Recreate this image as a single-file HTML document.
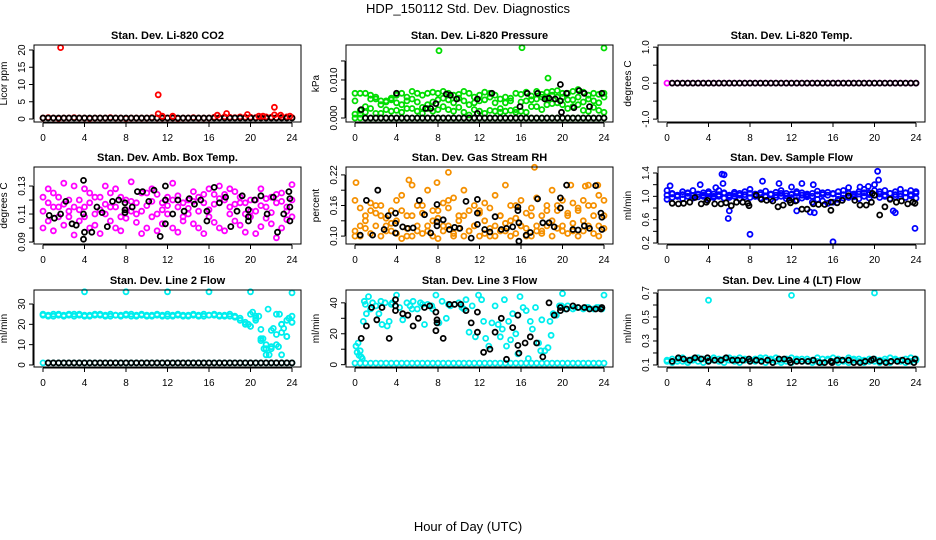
<!DOCTYPE html>
<html><head><meta charset="utf-8"><style>
html,body{margin:0;padding:0;background:#fff;}
svg{display:block;font-family:"Liberation Sans",sans-serif;}
</style></head><body>
<svg id="chart" width="936" height="540" viewBox="0 0 936 540">
<text x="468" y="13" text-anchor="middle" font-size="13">HDP_150112  Std. Dev. Diagnostics</text>
<text x="468" y="531" text-anchor="middle" font-size="13">Hour of Day (UTC)</text>
</svg>
<script>
const H=[0,0.5,1,1.5,2,2.5,3,3.5,4,4.5,5,5.5,6,6.5,7,7.5,8,8.5,9,9.5,10,10.5,11,11.5,12,12.5,13,13.5,14,14.5,15,15.5,16,16.5,17,17.5,18,18.5,19,19.5,20,20.5,21,21.5,22,22.5,23,23.5,24];
const zeroVals=[0,0,0,0,0,0,0,0,0,0,0,0,0,0,0,0,0,0,0,0,0,0,0,0,0,0,0,0,0,0,0,0,0,0,0,0,0,0,0,0,0,0,0,0,0,0,0,0,0];
const oneVals=[1,1,1,1,1,1,1,1,1,1,1,1,1,1,1,1,1,1,1,1,1,1,1,1,1,1,1,1,1,1,1,1,1,1,1,1,1,1,1,1,1,1,1,1,1,1,1,1,1];
const xTicks=[0,4,8,12,16,20,24];
// P1 CO2
const co2Red=[0.3,0.4,0.3,0.2,0.3,0.3,0.4,0.3,0.3,0.2,0.3,0.3,0.3,0.4,0.3,0.3,0.2,0.3,0.3,0.3,0.3,0.4,0.3,0.3,0.3,0.3,0.2,0.3,0.3,0.4,0.3,0.3,0.3,0.5,0.4,0.6,0.5,0.4,0.6,0.5,0.5,0.4,0.5,0.6,0.5,0.4,0.5,0.6,0.4];
const co2Black=[0.3,0.3,0.3,0.3,0.3,0.3,0.3,0.3,0.3,0.3,0.3,0.3,0.3,0.3,0.3,0.3,0.3,0.3,0.3,0.3,0.3,0.3,0.3,0.3,0.3,0.3,0.3,0.3,0.3,0.3,0.3,0.3,0.3,0.3,0.3,0.3,0.3,0.3,0.3,0.3,0.3,0.3,0.3,0.3,0.3,0.3,0.3,0.3,0.3];
const co2OutH=[1.7,11.1,11.1,11.5,12.5,16.8,17.7,19.7,20.8,21.2,22.3,22.3,22.9,23.8];
const co2OutV=[20.7,7,1.5,0.8,0.8,1.1,1.6,1.3,0.8,0.8,3.4,1.2,1.1,0.8];
// P2 pressure
const prG1=[0.0065,0.0065,0.0065,0.006,0.005,0.0045,0.0042,0.0048,0.006,0.0065,0.0055,0.007,0.0065,0.006,0.0065,0.0068,0.0065,0.007,0.0065,0.006,0.0062,0.007,0.0065,0.0055,0.006,0.0068,0.0065,0.006,0.005,0.0055,0.0052,0.0065,0.0062,0.0068,0.0058,0.007,0.0062,0.0068,0.007,0.0072,0.0065,0.0065,0.007,0.0075,0.0068,0.006,0.0065,0.0062,0.0065];
const prG2=[0.001,0.002,0.003,0.0025,0.0012,0.0035,0.0045,0.0018,0.002,0.0035,0.0045,0.0025,0.0018,0.0028,0.0035,0.0042,0.0048,0.003,0.0022,0.004,0.0028,0.0015,0.0035,0.0022,0.0045,0.0012,0.002,0.0018,0.0015,0.004,0.002,0.0015,0.0018,0.0045,0.003,0.005,0.0022,0.0052,0.0038,0.004,0.0055,0.0025,0.0048,0.0035,0.0042,0.0018,0.0028,0.004,0.0015];
const prG3=[0.0045,0.001,0.0015,0.005,0.0055,0.0012,0.0022,0.0052,0.004,0.0015,0.0025,0.005,0.0042,0.0012,0.0025,0.0018,0.0022,0.0052,0.0048,0.0018,0.0052,0.0045,0.0008,0.004,0.0018,0.0048,0.0055,0.004,0.0025,0.0018,0.0045,0.0022,0.0042,0.0015,0.0048,0.003,0.0055,0.0035,0.006,0.0055,0.0035,0.0048,0.003,0.0055,0.002,0.005,0.0045,0.002,0.0055];
const prGOutH=[8.1,16.1,24,18.6];
const prGOutV=[0.0177,0.0185,0.0184,0.0105];
const prBH=[0.6,4,6.8,7.3,7.8,8.8,9.2,9.8,11.8,11.8,13.2,15.9,16.6,17.6,18.3,18.7,19.3,19.8,19.8,19.9,20.4,21.1,21.6,22.1,22.6,23.8];
const prBV=[0.0022,0.0065,0.0025,0.0025,0.0038,0.0063,0.006,0.005,0.005,0.0012,0.0065,0.003,0.0065,0.0065,0.005,0.0052,0.005,0.0088,0.0045,0.0015,0.0065,0.0027,0.0072,0.0065,0.003,0.0065];
// P4 amb box temp
const amM1=[.112,.118,.125,.108,.132,.12,.115,.105,.128,.118,.11,.122,.13,.125,.115,.108,.12,.133,.118,.112,.125,.128,.11,.118,.122,.132,.115,.108,.12,.126,.112,.118,.128,.124,.13,.12,.115,.126,.118,.11,.112,.12,.128,.115,.122,.118,.125,.112,.131];
const amM2=[.1,.105,.098,.115,.102,.112,.095,.12,.108,.1,.102,.096,.11,.105,.1,.098,.107,.112,.104,.096,.1,.108,.098,.103,.11,.1,.097,.105,.11,.103,.1,.096,.108,.104,.1,.098,.11,.105,.102,.097,.108,.096,.101,.107,.103,.093,.1,.106,.108];
const amM3=[.122,.128,.115,.122,.117,.108,.13,.113,.115,.125,.122,.113,.117,.115,.128,.122,.113,.119,.11,.125,.116,.119,.124,.113,.116,.12,.123,.118,.114,.119,.122,.124,.113,.117,.121,.124,.128,.117,.122,.118,.12,.112,.116,.121,.111,.124,.119,.115,.12];
const amBH=[0.6,1.1,1.7,2.2,2.8,3.2,3.9,3.9,4,3.9,4.7,5.2,5.7,6.2,6.7,7.3,7.9,7.9,7.9,8.6,9.1,9.6,10.2,10.7,11.3,11.8,11.8,11.8,12.5,13,13.6,14.1,14.6,15.2,15.8,15.8,16.5,17,17.6,18.1,18.7,19.2,19.8,19.8,19.8,20.4,21,21.6,22.2,22.6,23.2,23.7,23.8,23.8,23.8];
const amBV=[.109,.107,.110,.119,.103,.102,.134,.110,.097,.092,.097,.115,.111,.101,.119,.120,.118,.113,.111,.115,.126,.126,.119,.127,.094,.130,.120,.103,.110,.120,.112,.121,.117,.120,.112,.105,.129,.118,.122,.101,.112,.123,.113,.108,.105,.120,.123,.110,.122,.097,.110,.126,.121,.115,.105];
// P5 RH
const rhO1=[.1,.12,.13,.15,.16,.14,.12,.11,.13,.15,.1,.14,.12,.16,.11,.13,.15,.12,.17,.1,.13,.14,.11,.12,.15,.13,.1,.12,.14,.11,.13,.16,.12,.1,.14,.12,.11,.15,.13,.16,.12,.14,.11,.15,.13,.16,.14,.12,.17];
const rhO2=[.11,.1,.115,.105,.12,.1,.11,.125,.105,.095,.115,.1,.11,.105,.12,.1,.095,.11,.12,.105,.115,.1,.11,.12,.1,.105,.115,.1,.11,.125,.1,.105,.12,.115,.1,.11,.105,.12,.1,.115,.11,.105,.125,.1,.11,.12,.105,.1,.115];
const rhO3=[.17,.155,.14,.165,.145,.16,.135,.15,.17,.18,.14,.2,.16,.145,.19,.15,.135,.165,.155,.175,.14,.19,.15,.16,.145,.165,.155,.18,.14,.2,.16,.135,.17,.145,.155,.175,.14,.16,.19,.15,.17,.145,.165,.155,.17,.2,.16,.18,.14];
const rhOutH=[0.1,5.2,7.9,9,17.3,20.8,22.2,23.4];
const rhOutV=[.205,.21,.205,.225,.235,.2,.198,.2];
const rhBH=[0.5,1.1,1.7,2.2,2.8,3.2,3.9,3.9,3.9,4.6,5.1,5.6,6.2,6.7,7.3,7.9,7.9,7.9,8.5,9.1,9.6,10.1,10.7,11.2,11.8,11.8,11.8,12.5,13,13.5,14.1,14.6,15.2,15.7,15.7,15.8,15.8,16.5,16.9,17.6,18.1,18.7,19.2,19.8,19.8,20.4,21,21.5,22.1,22.6,23.2,23.7,23.8,23.8];
const rhBV=[.102,.17,.102,.19,.113,.14,.145,.125,.106,.118,.115,.116,.17,.142,.106,.162,.128,.12,.132,.113,.117,.115,.168,.096,.172,.145,.123,.113,.108,.138,.113,.115,.118,.157,.15,.126,.09,.102,.107,.173,.126,.126,.118,.175,.155,.2,.113,.112,.12,.115,.199,.145,.137,.113];
// P6 sample flow
const sfB1=[1.1,1.05,1.02,1.08,1.05,1.1,1.03,1.06,1.08,1.04,1.1,1.05,1.02,1.07,1.05,1.08,1.12,1.04,1.06,1.09,1.03,1.07,1.1,1.05,1.04,1.08,1.06,1.02,1.05,1.09,1.03,1.07,1.05,1.08,1.1,1.06,1.04,1.08,1.12,1.06,1.2,1.08,1.1,1.05,1.08,1.12,1.06,1.1,1.08];
const sfB2=[.95,.98,1.0,.96,1.0,.97,.99,1.0,.96,.98,1.0,.97,.98,1.0,.96,.99,.98,1.0,.97,.99,.95,.98,1.0,.96,.98,.93,.97,.99,.9,.95,.92,.88,.9,.95,.97,.98,.99,.96,1.0,.97,1.02,.98,1.0,.96,.99,1.0,.98,1.01,.97];
const sfB3=[1.02,1.04,1.0,1.03,1.06,1.01,1.04,1.02,1.05,1.0,1.03,1.06,1.01,1.04,1.02,1.03,1.05,1.0,1.03,1.01,1.04,1.02,1.05,1.01,1.03,1.05,1.02,1.04,1.0,1.03,1.06,1.02,1.04,1.01,1.03,1.05,1.02,1.04,1.06,1.03,1.1,1.04,1.02,1.05,1.03,1.04,1.06,1.03,1.05];
const sfOutH=[0.3,3.2,5.3,5.5,5.4,5.9,6,8,9.2,10.8,12.5,13,14.1,13.8,14.2,16,20.3,20.4,21.8,22,23.9,4.7,12,17.5,18.6,19.4];
const sfOutV=[1.18,1.2,1.38,1.37,1.22,0.62,0.75,0.35,1.26,1.22,0.75,1.22,1.2,0.73,0.72,0.22,1.43,1.28,0.75,0.72,0.45,1.15,1.16,1.15,1.16,1.17];
const sfBH=[0.5,1.1,1.6,2.2,2.7,3.3,3.8,3.9,4.6,5.2,5.7,6.2,6.7,7.3,7.8,7.9,8.6,9.1,9.6,10.2,10.7,11.2,11.8,11.9,12.4,13,13.5,14.1,14.6,15.2,15.8,15.8,16.4,16.9,17.5,18.1,18.6,19.2,19.7,19.8,20,20.5,21,21.5,22.1,22.6,23.2,23.7,23.9];
const sfBV=[.88,.87,.88,.9,.98,.87,.9,.93,.87,.87,.89,.84,.9,.9,.88,.84,1.02,.95,.93,.92,.82,.85,.93,.89,.92,.78,.78,.87,.86,.86,.9,.76,.89,.93,1.01,.93,.85,.85,.9,1.05,1.02,.68,.82,.95,.9,.92,.87,.9,.88];
// P7 line 2
const l2C1=[24.5,24,25,24.5,24,24.5,25,24.5,24,24.5,24.5,25,24.5,24,24.5,24.5,25,24,24.5,24.5,24,24.5,25,24.5,24,24.5,24.5,24,24.5,25,24.5,24,24.5,24.5,24,24.5,24,23.5,22,21,25,23,12,8,17,10,20,22,21];
const l2C2=[25,24.5,24,25,24.5,25,24,25,24.5,24,25,24.5,24,25,24.5,24,24.5,25,24,25,24.5,24,24.5,24,25,24,25,24.5,24,24.5,24,25,24.5,25,24.5,24,25,24,23,20,19,24,13,5,9,25,16,14,24];
const l2SH=[20.2,20.5,21,21.2,21.5,21.8,22,22.2,22.5,22.8,23,23.2,23.5,23.7,24,21.7,22.7,23,20.8,19.8,20,21.3];
const l2SV=[26,22,17.5,13,10,5,8,18,15,25,20,18,14,23,21,27.5,9,5,24,20,19,8];
const l2OutH=[4,8,12,16,20,24];
const l2OutV=[36,36,36,36,36,35.5];
// P8 line 3
const l3CH=[0.1,0.2,0.3,0.4,0.5,0.6,0.7,0.8,0.9,1.1,1.3,1.5,1.7,2,2.3,2.6,2.9,3.1,3.3,3.6,4,4.3,4.6,5,5.3,5.6,6,6.3,6.7,7,7.4,7.8,8.1,8.4,8.8,9.2,9.6,10,10.3,10.7,11,11.3,11.6,11.9,12.2,12.4,12.6,12.9,13.2,13.5,13.8,14,14.2,14.4,14.6,14.8,15,15.2,15.5,15.7,15.9,16.2,16.5,16.7,16.9,17.1,17.4,17.7,18,18.3,18.6,18.8,19.1,19.4,19.7,20,20.5,21,21.5,22,22.5,23,23.5,24,1,2.5,3.5,5.5,6.5,7.5,9,10.5,20.3,21.2,22.3,23.3,23.8,19.9,18.9,17.9];
const l3CV=[12,8,14,6,9,5,4,28,41,33,44,36,40,38,33,26,40,25,28,40,45,37,29,40,38,41,36,40,26,39,38,45,27,41,30,38,39,40,37,42,21,38,18,45,42,28,17,12,27,38,26,18,23,42,12,28,16,33,20,7,44,37,35,4,28,23,37,14,29,9,11,28,33,32,38,46,38,36,37,36,37,36,37,45,39,41,39,36,39,36,39,36,36,37,37,37,36,38,19,9];
const l3BH=[0.6,1.1,1.6,2.1,2.6,3.3,3.9,3.9,3.9,4.6,5.1,5.6,6.1,6.7,7.2,7.8,7.9,7.9,7.8,8.5,9.1,9.6,10.2,10.7,11.2,11.8,11.8,12.4,13,13.5,14.1,14.6,15.2,15.7,15.7,15.8,16.4,16.9,17.5,18.1,18.7,19.2,19.8,19.8,20.4,21,21.5,22.1,22.6,23.2,23.7,23.8];
const l3BV=[17,25,37,29,37,17,42,38,35,33,32,25,30,37,38,34,29,27,22,17,39,39,39,35,27,34,21,8,10,21,30,3.5,24,32,12.5,7.5,14,18,14,5,40,32,37,35,36,38,37,37,36,36,36,37];
// P9 line 4
const l4C1=[.14,.15,.13,.16,.14,.15,.13,.15,.14,.16,.13,.15,.14,.15,.16,.14,.13,.15,.14,.16,.15,.13,.14,.15,.16,.14,.15,.13,.14,.16,.15,.14,.13,.15,.14,.16,.15,.13,.14,.15,.13,.14,.15,.16,.14,.13,.15,.16,.14];
const l4C2=[.13,.12,.15,.13,.12,.14,.16,.12,.13,.14,.15,.12,.16,.13,.12,.15,.14,.13,.16,.12,.14,.16,.12,.13,.12,.15,.13,.15,.12,.13,.12,.15,.16,.12,.13,.12,.14,.15,.12,.13,.15,.12,.13,.12,.15,.14,.12,.13,.15];
const l4OutH=[4,12,20];
const l4OutV=[0.64,0.68,0.70];
const l4BH=[0.5,1.1,1.6,2.2,2.7,3.3,3.9,4,4.6,5.2,5.7,6.3,6.8,7.3,7.9,8,8.6,9.1,9.7,10.2,10.8,11.3,11.8,11.9,12.5,13,13.6,14.1,14.7,15.2,15.8,15.9,16.4,16.9,17.5,18,18.6,19.1,19.7,19.9,20.5,21.1,21.6,22.2,22.7,23.2,23.8,23.9];
const l4BV=[.13,.16,.15,.14,.16,.15,.16,.13,.14,.14,.16,.14,.14,.14,.15,.13,.14,.13,.14,.12,.15,.15,.14,.12,.13,.13,.13,.14,.12,.12,.13,.12,.14,.14,.14,.12,.12,.13,.14,.15,.13,.12,.13,.13,.14,.13,.12,.15];

const NS="http://www.w3.org/2000/svg";
const svg=document.getElementById('chart');
function mk(tag,attrs,parent){const e=document.createElementNS(NS,tag);for(const k in attrs)e.setAttribute(k,attrs[k]);(parent||svg).appendChild(e);return e;}
const colL=[34,346,658], rowT=[45,167,290], PW=267, PH=77;
const panels=[
 {title:"Stan. Dev. Li-820 CO2",ylab:"Licor ppm",ylim:[-0.87,21.45],yt:[0,5,10,15,20],yl:["0","5","10","15","20"],
  series:[[H,co2Red,"#ff0000"],[H,co2Black,"#000"],[co2OutH,co2OutV,"#ff0000"]]},
 {title:"Stan. Dev. Li-820 Pressure",ylab:"kPa",ylim:[-0.00105,0.0192],yt:[0,0.005,0.01,0.015],yl:["0.000","","0.010",""],
  series:[[H,zeroVals,"#00dd00"],[H,prG1,"#00dd00"],[H,prG2,"#00dd00"],[H,prG3,"#00dd00"],[prGOutH,prGOutV,"#00dd00"],[H.slice(2),zeroVals.slice(2),"#000"],[prBH,prBV,"#000"]]},
 {title:"Stan. Dev. Li-820 Temp.",ylab:"degrees C",ylim:[-1.08,1.06],yt:[-1,-0.5,0,0.5,1],yl:["-1.0","","0.0","","1.0"],
  series:[[H,zeroVals,"#ff00ff"],[H.slice(1),zeroVals.slice(1),"#000"]]},
 {title:"Stan. Dev. Amb. Box Temp.",ylab:"degrees C",ylim:[0.0886,0.1436],yt:[.09,.10,.11,.12,.13],yl:["0.09","","0.11","","0.13"],
  series:[[H,amM1,"#ff00ff"],[H,amM2,"#ff00ff"],[H,amM3,"#ff00ff"],[amBH,amBV,"#000"]]},
 {title:"Stan. Dev. Gas Stream RH",ylab:"percent",ylim:[0.0845,0.2355],yt:[.10,.13,.16,.19,.22],yl:["0.10","","0.16","","0.22"],
  series:[[H,rhO1,"#f59000"],[H,rhO2,"#f59000"],[H,rhO3,"#f59000"],[rhOutH,rhOutV,"#f59000"],[rhBH,rhBV,"#000"]]},
 {title:"Stan. Dev. Sample Flow",ylab:"ml/min",ylim:[0.183,1.503],yt:[0.2,0.4,0.6,0.8,1.0,1.2,1.4],yl:["0.2","","0.6","","1.0","","1.4"],
  series:[[H,sfB1,"#0000ff"],[H,sfB2,"#0000ff"],[H,sfB3,"#0000ff"],[sfOutH,sfOutV,"#0000ff"],[sfBH,sfBV,"#000"]]},
 {title:"Stan. Dev. Line 2 Flow",ylab:"ml/min",ylim:[-1.0,36.9],yt:[0,10,20,30],yl:["0","10","20","30"],
  series:[[H,oneVals,"#00eeee"],[H,l2C1,"#00eeee"],[H,l2C2,"#00eeee"],[l2SH,l2SV,"#00eeee"],[l2OutH,l2OutV,"#00eeee"],[H.slice(1),oneVals.slice(1),"#000"]]},
 {title:"Stan. Dev. Line 3 Flow",ylab:"ml/min",ylim:[-1.5,48.3],yt:[0,10,20,30,40],yl:["0","","20","","40"],
  series:[[H,oneVals,"#00eeee"],[l3CH,l3CV,"#00eeee"],[l3BH,l3BV,"#000"]]},
 {title:"Stan. Dev. Line 4 (LT) Flow",ylab:"ml/min",ylim:[0.083,0.725],yt:[.1,.2,.3,.4,.5,.6,.7],yl:["0.1","","0.3","","0.5","","0.7"],
  series:[[H,l4C1,"#00eeee"],[H,l4C2,"#00eeee"],[l4OutH,l4OutV,"#00eeee"],[l4BH,l4BV,"#000"]]}
];
panels.forEach((p,i)=>{
  const L=colL[i%3], T=rowT[Math.floor(i/3)], B=T+PH, R=L+PW;
  const xs=h=>L+9+h*(PW-18)/24;
  const ys=v=>B-(v-p.ylim[0])/(p.ylim[1]-p.ylim[0])*PH;
  const g=mk('g',{});
  
  
  const t=mk('text',{x:L+PW/2,y:T-6,'text-anchor':'middle','font-size':'11','font-weight':'bold'},g);t.textContent=p.title;
  
  
  const cg=mk('g',{fill:'none','stroke-width':'1.8'},g);
  
  
  p.series.forEach(s=>{
    s[0].forEach((h,k)=>{
      const c=mk('circle',{cx:xs(h).toFixed(1),cy:ys(s[1][k]).toFixed(1),r:'2.5',stroke:s[2]},cg);
      
      
    });
  });
  const box=mk('rect',{x:L,y:T,width:PW,height:PH,fill:'none',stroke:'#000','stroke-width':'1'},g);
  
  
  const ax=mk('g',{stroke:'#000','stroke-width':'1'},g);
  
  
  mk('line',{x1:xs(0),x2:xs(24),y1:B+1,y2:B+1},ax);
  xTicks.forEach(h=>{
    mk('line',{x1:xs(h),x2:xs(h),y1:B+1,y2:B+5},ax);
    const tl=mk('text',{x:xs(h),y:B+19,'text-anchor':'middle','font-size':'10',stroke:'none'},ax);tl.textContent=String(h);
  });
  const ay=mk('g',{stroke:'#000','stroke-width':'1'},g);
  
  
  mk('line',{x1:L-1,x2:L-1,y1:ys(p.yt[0]),y2:ys(p.yt[p.yt.length-1])},ay);
  p.yt.forEach((v,k)=>{
    const y=ys(v);
    mk('line',{x1:L-5,x2:L-1,y1:y,y2:y},ay);
    if(p.yl[k]){const tl=mk('text',{x:L-9,y:y,'text-anchor':'middle','font-size':'10',stroke:'none',transform:`rotate(-90 ${L-9} ${y})`},ay);tl.textContent=p.yl[k];}
  });
  const yl=mk('text',{x:L-27,y:T+PH/2,'text-anchor':'middle','font-size':'10',transform:`rotate(-90 ${L-27} ${T+PH/2})`},g);yl.textContent=p.ylab;
  
  
});
</script>
</body></html>
